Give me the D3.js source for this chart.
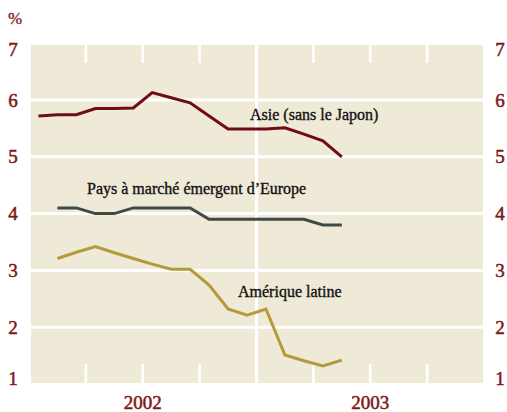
<!DOCTYPE html>
<html>
<head>
<meta charset="utf-8">
<script src="https://cdn.jsdelivr.net/npm/d3@7"></script>
<style>
	body { margin: 0; background: #ffffff; }
</style>
</head>
<body>
<script>
			var w = 507;
			var h = 412;

			//Monthly data, Jan 2002 - May 2003 (index 0 = Jan 2002)
			var months = d3.range(17);
			var asie = [5.72, 5.74, 5.74, 5.85, 5.85, 5.86, 6.13, 6.04, 5.95, 5.72, 5.49, 5.49, 5.49, 5.51, 5.40, 5.28, 5.00];
			var europe = [null, 4.1, 4.1, 4.0, 4.0, 4.1, 4.1, 4.1, 4.1, 3.9, 3.9, 3.9, 3.9, 3.9, 3.9, 3.8, 3.8];
			var latine = [null, 3.21, 3.32, 3.42, 3.31, 3.21, 3.11, 3.02, 3.02, 2.74, 2.32, 2.21, 2.32, 1.51, 1.41, 1.32, 1.42];

			var yTicks = [1, 2, 3, 4, 5, 6, 7];
			var gridValues = [2, 3, 4, 5, 6];
			var quarterTicks = [3, 6, 9, 15, 18, 21];
			var yearDivider = [12];
			var years = [{ label: "2002", mid: 6 }, { label: "2003", mid: 18 }];

			var series = [
				{ name: "Asie (sans le Japon)", values: asie, color: "#6e0d12", lx: 250, ly: 120 },
				{ name: "Pays à marché émergent d’Europe", values: europe, color: "#3d4a46", lx: 87, ly: 194 },
				{ name: "Amérique latine", values: latine, color: "#b49a3a", lx: 238, ly: 297 }
			];

			var panelLeft = 31, panelRight = 483, panelTop = 45, panelBottom = 383;

			var xScale = d3.scaleLinear()
						   .domain([0, 24])
						   .range([29, 484]);

			var yScale = d3.scaleLinear()
						   .domain([1, 7])
						   .range([384, 43.2]);

			var svg = d3.select("body")
						.append("svg")
						.attr("width", w)
						.attr("height", h);

			//Background panel
			svg.append("rect")
				.attr("x", panelLeft)
				.attr("y", panelTop)
				.attr("width", panelRight - panelLeft)
				.attr("height", panelBottom - panelTop)
				.attr("fill", "#efe9d7");

			//Horizontal white gridlines
			svg.selectAll("line.grid")
				.data(gridValues)
				.enter()
				.append("line")
				.attr("class", "grid")
				.attr("x1", panelLeft)
				.attr("x2", panelRight)
				.attr("y1", function(d) { return yScale(d); })
				.attr("y2", function(d) { return yScale(d); })
				.attr("stroke", "#ffffff")
				.attr("stroke-width", 3);

			//Year divider
			svg.selectAll("line.year")
				.data(yearDivider)
				.enter()
				.append("line")
				.attr("class", "year")
				.attr("x1", function(d) { return xScale(d); })
				.attr("x2", function(d) { return xScale(d); })
				.attr("y1", panelTop)
				.attr("y2", panelBottom)
				.attr("stroke", "#ffffff")
				.attr("stroke-width", 3);

			//Quarter ticks, top and bottom
			svg.selectAll("line.qtop")
				.data(quarterTicks)
				.enter()
				.append("line")
				.attr("class", "qtop")
				.attr("x1", function(d) { return xScale(d); })
				.attr("x2", function(d) { return xScale(d); })
				.attr("y1", panelTop)
				.attr("y2", panelTop + 18)
				.attr("stroke", "#ffffff")
				.attr("stroke-width", 2.5);

			svg.selectAll("line.qbot")
				.data(quarterTicks)
				.enter()
				.append("line")
				.attr("class", "qbot")
				.attr("x1", function(d) { return xScale(d); })
				.attr("x2", function(d) { return xScale(d); })
				.attr("y1", panelBottom - 19)
				.attr("y2", panelBottom)
				.attr("stroke", "#ffffff")
				.attr("stroke-width", 2.5);

			//Lines
			series.forEach(function(s) {
				var line = d3.line()
							.defined(function(d) { return s.values[d] != null; })
							.x(function(d) { return xScale(d + 0.5); })
							.y(function(d) { return yScale(s.values[d]); });

				svg.append("path")
					.datum(months)
					.attr("d", line)
					.attr("fill", "none")
					.attr("stroke", s.color)
					.attr("stroke-width", 3)
					.attr("stroke-linejoin", "miter");

				svg.append("text")
					.attr("x", s.lx)
					.attr("y", s.ly)
					.text(s.name)
					.attr("font-family", "'Liberation Serif', serif")
					.attr("font-size", 16)
					.attr("fill", "#111111")
					.attr("stroke", "#111111")
					.attr("stroke-width", 0.35);
			});

			//Y tick labels, left and right (ends pulled inside the panel)
			var labelY = function(d) {
				return Math.min(Math.max(yScale(d), 49), 378) + 6.5;
			};

			[13, 500].forEach(function(xPos) {
				svg.selectAll(null)
					.data(yTicks)
					.enter()
					.append("text")
					.attr("x", xPos)
					.attr("y", labelY)
					.attr("text-anchor", "middle")
					.text(function(d) { return d; })
					.attr("font-family", "'Liberation Serif', serif")
					.attr("font-size", 19)
					.attr("fill", "#7d1719")
					.attr("stroke", "#7d1719")
					.attr("stroke-width", 0.5);
			});

			svg.append("text")
				.attr("x", 8)
				.attr("y", 24)
				.text("%")
				.attr("font-family", "'Liberation Serif', serif")
				.attr("font-size", 17)
				.attr("fill", "#7d1719")
				.attr("stroke", "#7d1719")
				.attr("stroke-width", 0.3);

			//Year labels
			svg.selectAll("text.yr")
				.data(years)
				.enter()
				.append("text")
				.attr("class", "yr")
				.attr("x", function(d) { return xScale(d.mid); })
				.attr("y", 409)
				.attr("text-anchor", "middle")
				.text(function(d) { return d.label; })
				.attr("font-family", "'Liberation Serif', serif")
				.attr("font-size", 19)
				.attr("fill", "#7d1719")
				.attr("stroke", "#7d1719")
				.attr("stroke-width", 0.5);
</script>
</body>
</html>
